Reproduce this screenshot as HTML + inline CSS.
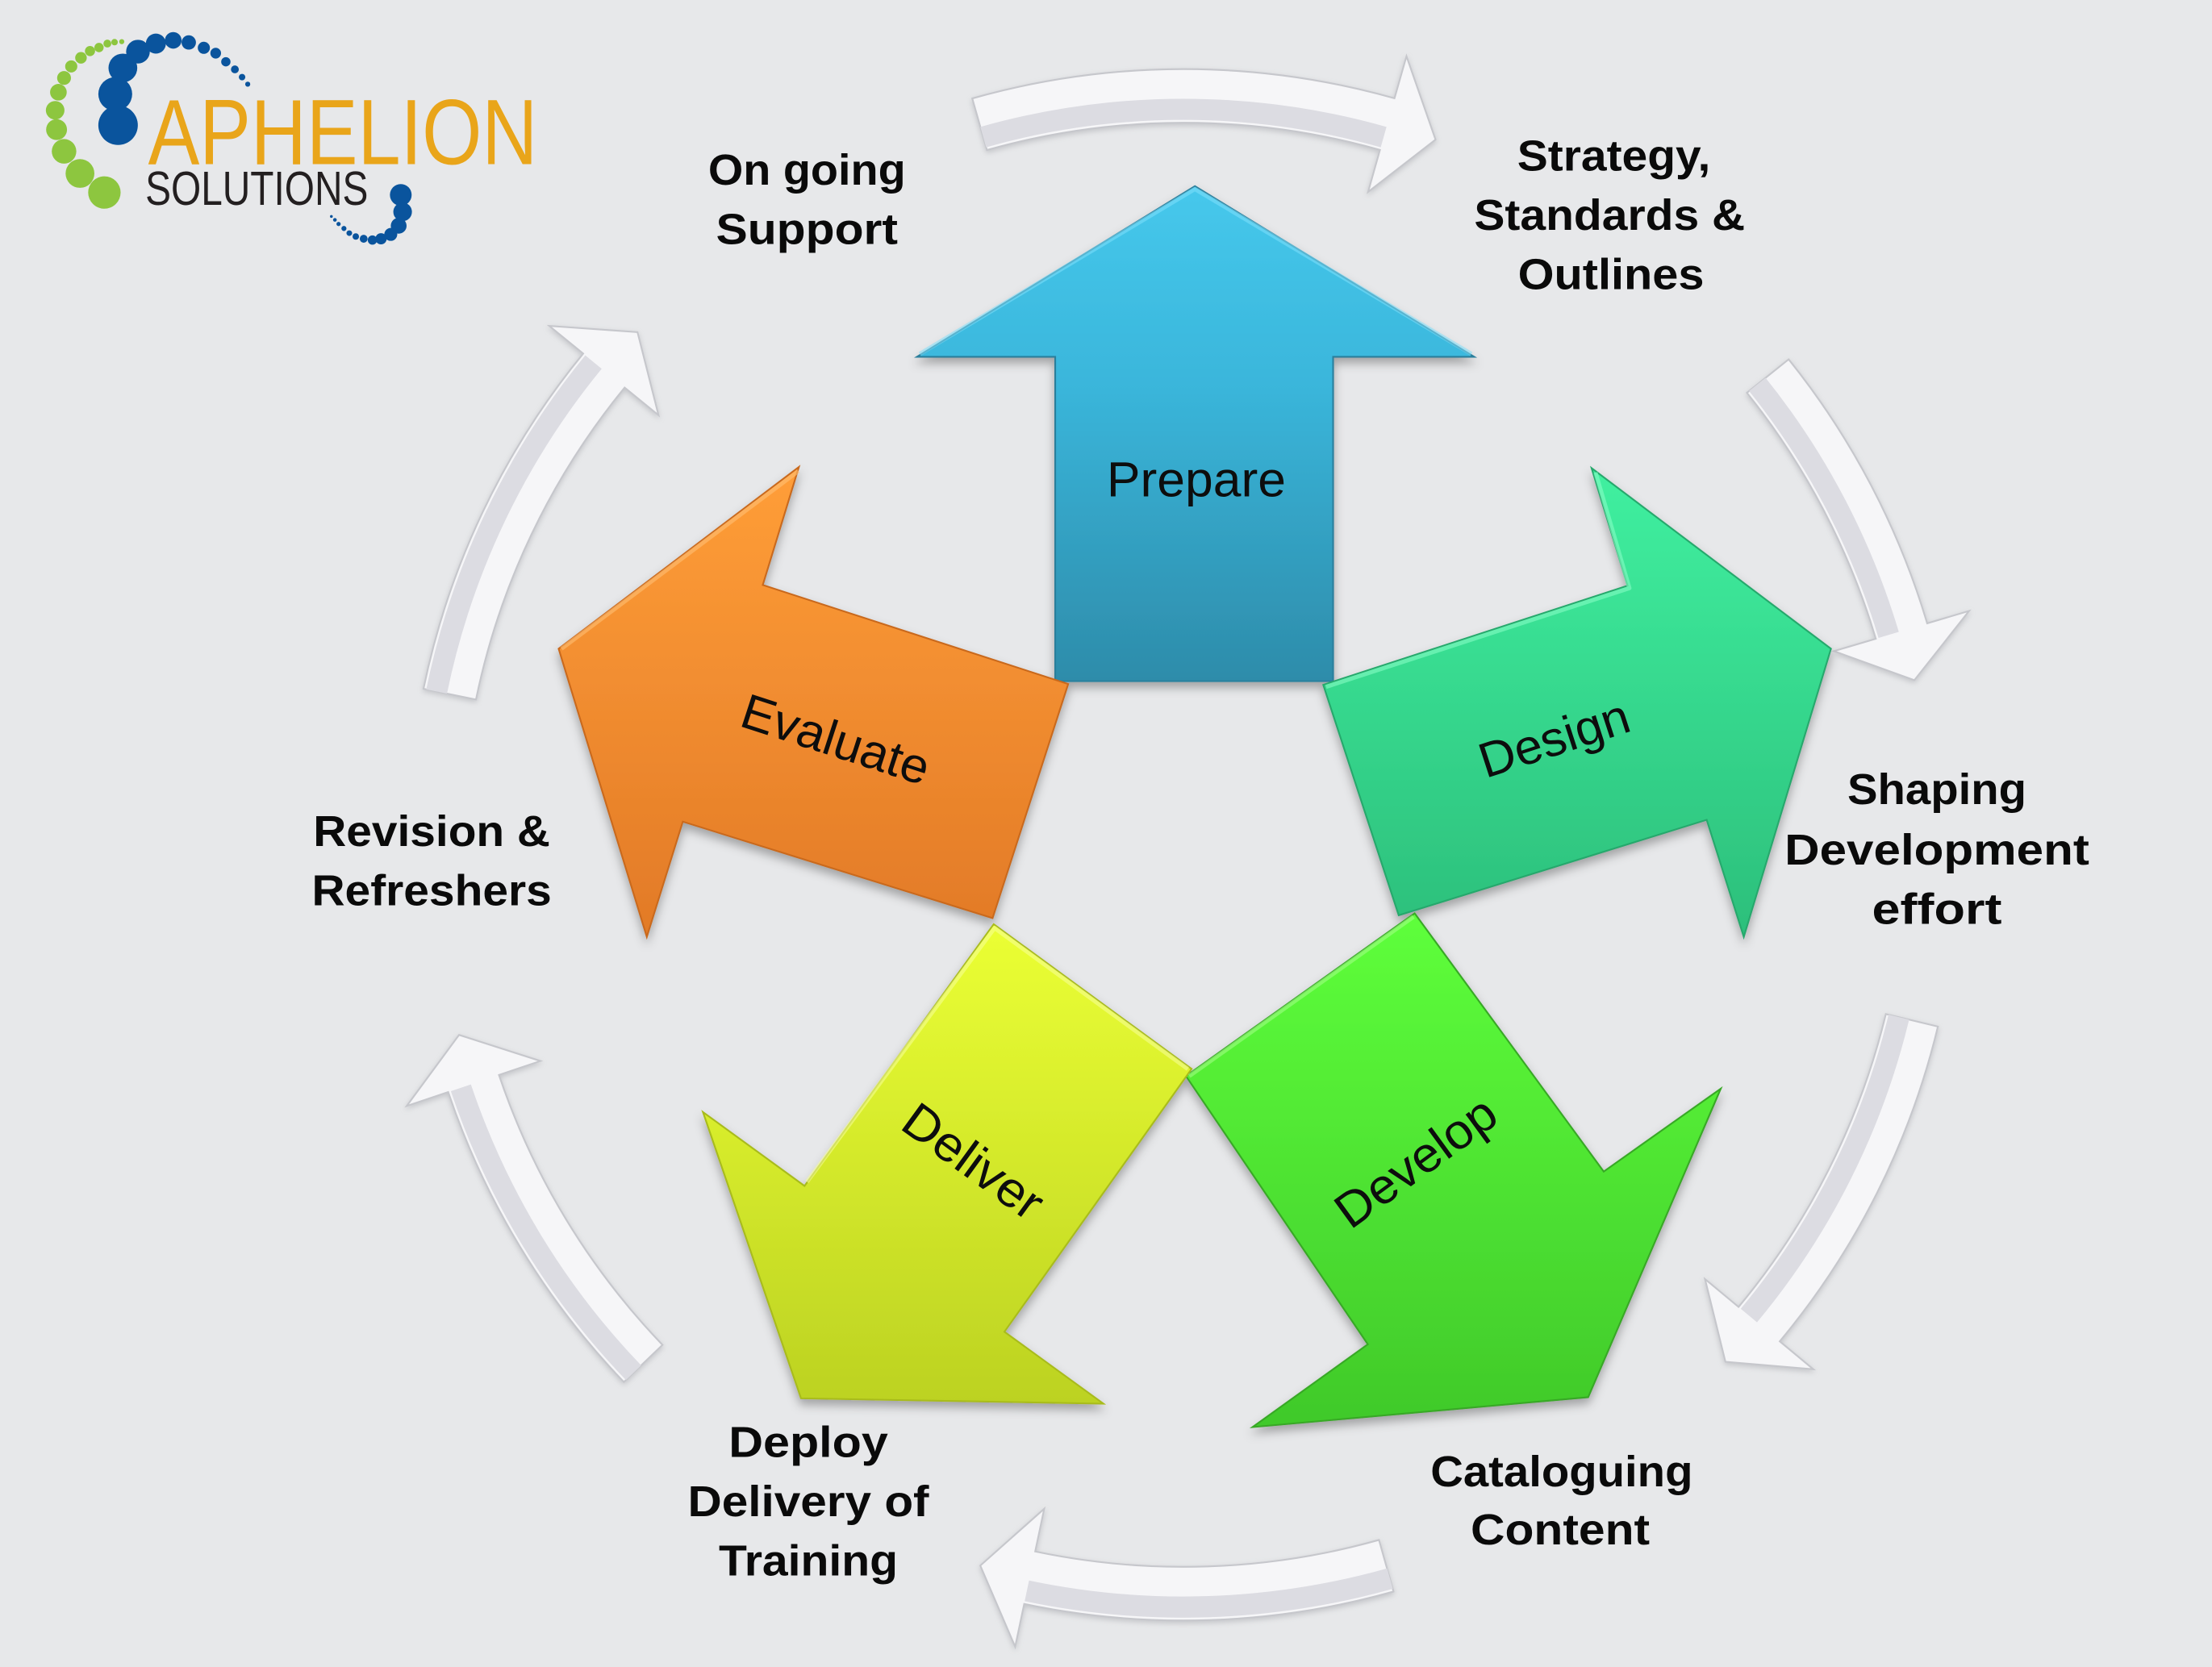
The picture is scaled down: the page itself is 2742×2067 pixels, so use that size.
<!DOCTYPE html>
<html>
<head>
<meta charset="utf-8">
<style>
  html,body{margin:0;padding:0;background:#e7e8ea;}
  body{width:2742px;height:2067px;overflow:hidden;}
  svg{display:block;}
  .lbl{font-family:"Liberation Sans",Arial,sans-serif;font-weight:bold;font-size:31px;fill:#0a0a0a;text-anchor:middle;}
  .al{font-family:"Liberation Sans",Arial,sans-serif;font-size:35px;fill:#0d0d0d;text-anchor:middle;}
</style>
</head>
<body>
<svg width="2742" height="2067" viewBox="0 0 1568 1182" preserveAspectRatio="none" xmlns="http://www.w3.org/2000/svg">
  <defs>
    <linearGradient id="gP" x1="0" y1="0" x2="0" y2="1">
      <stop offset="0" stop-color="#46c8ec"/>
      <stop offset="0.4" stop-color="#3ab6db"/>
      <stop offset="1" stop-color="#2d8caa"/>
    </linearGradient>
    <linearGradient id="gD" x1="0" y1="0" x2="0" y2="1">
      <stop offset="0" stop-color="#40f0a0"/>
      <stop offset="1" stop-color="#2cbf7b"/>
    </linearGradient>
    <linearGradient id="gE" x1="0" y1="0" x2="0" y2="1">
      <stop offset="0" stop-color="#ff9e38"/>
      <stop offset="1" stop-color="#e27a27"/>
    </linearGradient>
    <linearGradient id="gV" x1="0" y1="0" x2="0" y2="1">
      <stop offset="0" stop-color="#5eff3b"/>
      <stop offset="1" stop-color="#40c92a"/>
    </linearGradient>
    <linearGradient id="gL" x1="0" y1="0" x2="0" y2="1">
      <stop offset="0" stop-color="#ebff34"/>
      <stop offset="1" stop-color="#bcd222"/>
    </linearGradient>
    <filter id="sh" x="-10%" y="-10%" width="120%" height="125%">
      <feDropShadow dx="0" dy="4" stdDeviation="3.5" flood-color="#000" flood-opacity="0.3"/>
    </filter>
    <filter id="sh2" x="-10%" y="-10%" width="120%" height="120%">
      <feDropShadow dx="0" dy="1.5" stdDeviation="2" flood-color="#9a9ba0" flood-opacity="0.45"/>
    </filter>
  </defs>

  <rect x="0" y="0" width="1568" height="1182" fill="#e7e8ea"/>

  <!-- ===== Curved cycle arrows ===== -->
  <g stroke="#c6c7cc" stroke-width="1.2" stroke-linejoin="miter" filter="url(#sh2)">
    <path d="M689.2,69.8 A550,550 0 0,1 988.5,69.7 L997.0,39.9 L1017.6,99.0 L969.8,136.1 L978.2,106.3 A512,512 0 0,0 699.6,106.4 Z" fill="#f6f6f8"/>
    <path d="M1267.9,254.8 A550,550 0 0,1 1366.1,442.0 L1395.8,433.2 L1357.0,482.3 L1300.0,461.7 L1329.7,452.9 A512,512 0 0,0 1238.3,278.5 Z" fill="#f6f6f8"/>
    <path d="M1373.7,727.9 A550,550 0 0,1 1261.6,951.1 L1285.4,970.9 L1223.1,965.6 L1208.6,906.9 L1232.4,926.7 A512,512 0 0,0 1336.8,719.0 Z" fill="#f6f6f8"/>
    <path d="M987.8,1128.5 A550,550 0 0,1 726.0,1137.3 L719.6,1167.6 L694.9,1110.1 L740.2,1069.8 L733.8,1100.1 A512,512 0 0,0 977.5,1091.9 Z" fill="#f6f6f8"/>
    <path d="M442.2,979.9 A550,550 0 0,1 317.7,774.3 L288.3,784.2 L325.4,733.8 L383.1,752.3 L353.7,762.2 A512,512 0 0,0 469.6,953.6 Z" fill="#f6f6f8"/>
    <path d="M300.2,488.4 A550,550 0 0,1 413.4,250.7 L389.4,231.1 L451.9,235.5 L466.8,294.4 L442.8,274.8 A512,512 0 0,0 337.4,496.0 Z" fill="#f6f6f8"/>
  </g>
  <!-- gray shading stripes -->
  <g fill="none" stroke="#dcdce2" stroke-width="15" stroke-linecap="butt">
    <path d="M697.0,97.2 A521.5,521.5 0 0,1 980.8,97.2"/>
    <path d="M1245.7,272.6 A521.5,521.5 0 0,1 1338.8,450.2"/>
    <path d="M1346.0,721.2 A521.5,521.5 0 0,1 1239.7,932.8"/>
    <path d="M985.3,1119.3 A540.5,540.5 0 0,1 727.9,1128.0"/>
    <path d="M449.1,973.3 A540.5,540.5 0 0,1 326.7,771.3"/>
    <path d="M309.5,490.3 A540.5,540.5 0 0,1 420.7,256.7"/>
  </g>

  <!-- ===== Main block arrows ===== -->
  <g filter="url(#sh)" stroke-width="1.2" stroke-linejoin="miter">
    <polygon points="847,132 1045,253 945,253 945,483 748,483 748,253 650,253" fill="url(#gP)" stroke="#2a7f9c"/>
    <polygon points="938,485.6 1153.7,415.3 1128.2,331.9 1297.9,460 1236.1,664.3 1209.8,581.3 991.5,649" fill="url(#gD)" stroke="#27a86c"/>
    <polygon points="1002.8,647.6 1136.8,830.7 1219.8,771.9 1125.8,990.7 887.9,1011.9 969.6,953.2 840.7,763" fill="url(#gV)" stroke="#37a825"/>
    <polygon points="704.4,655.3 844.7,757.9 712,944.3 782.2,995.3 567.8,991.5 498.3,788.5 570.3,840.9" fill="url(#gL)" stroke="#a8bb1c"/>
    <polygon points="757.2,485 540.7,414.8 566.3,331.1 396,460 458.5,664.3 484,582.6 703.6,651" fill="url(#gE)" stroke="#c9691f"/>
  </g>
  <!-- bevel highlights -->
  <g fill="none" stroke-width="3" stroke-linejoin="round" opacity="0.55">
    <polyline points="652,251 847,134 1043,251" stroke="#7fe0fb"/>
    <polyline points="940,487 1155,417 1131,335" stroke="#8cffc8"/>
    <polyline points="843,763 1002,650" stroke="#a6ff8a"/>
    <polyline points="572,838 705,658 842,758" stroke="#f8ff9a"/>
    <polyline points="398,460 566,334" stroke="#ffc27a"/>
  </g>

  <!-- ===== Arrow labels ===== -->
  <text class="al" x="848" y="352" textLength="127" lengthAdjust="spacingAndGlyphs">Prepare</text>
  <g transform="translate(1102.6,526.4) rotate(-18)">
    <text class="al" x="0" y="9" textLength="110" lengthAdjust="spacingAndGlyphs">Design</text>
  </g>
  <g transform="translate(592.5,523.8) rotate(18)">
    <text class="al" x="0" y="12.5" textLength="138" lengthAdjust="spacingAndGlyphs">Evaluate</text>
  </g>
  <g transform="translate(1005.3,826.3) rotate(-36)">
    <text class="al" x="0" y="9" textLength="132" lengthAdjust="spacingAndGlyphs">Develop</text>
  </g>
  <g transform="translate(690.3,823) rotate(36)">
    <text class="al" x="0" y="12.5" textLength="114" lengthAdjust="spacingAndGlyphs">Deliver</text>
  </g>

  <!-- ===== Outer labels ===== -->
  <text class="lbl" x="572" y="131" textLength="140" lengthAdjust="spacingAndGlyphs">On going</text>
  <text class="lbl" x="572" y="173" textLength="129" lengthAdjust="spacingAndGlyphs">Support</text>

  <text class="lbl" x="1144" y="121" textLength="137" lengthAdjust="spacingAndGlyphs">Strategy,</text>
  <text class="lbl" x="1141" y="163" textLength="192" lengthAdjust="spacingAndGlyphs">Standards &amp;</text>
  <text class="lbl" x="1142" y="205" textLength="132" lengthAdjust="spacingAndGlyphs">Outlines</text>

  <text class="lbl" x="1373" y="570" textLength="127" lengthAdjust="spacingAndGlyphs">Shaping</text>
  <text class="lbl" x="1373" y="613" textLength="216" lengthAdjust="spacingAndGlyphs">Development</text>
  <text class="lbl" x="1373" y="655" textLength="92" lengthAdjust="spacingAndGlyphs">effort</text>

  <text class="lbl" x="306" y="600" textLength="168" lengthAdjust="spacingAndGlyphs">Revision &amp;</text>
  <text class="lbl" x="306" y="642" textLength="170" lengthAdjust="spacingAndGlyphs">Refreshers</text>

  <text class="lbl" x="1107" y="1054" textLength="186" lengthAdjust="spacingAndGlyphs">Cataloguing</text>
  <text class="lbl" x="1106" y="1095" textLength="127" lengthAdjust="spacingAndGlyphs">Content</text>

  <text class="lbl" x="573" y="1033" textLength="113" lengthAdjust="spacingAndGlyphs">Deploy</text>
  <text class="lbl" x="573" y="1075" textLength="171" lengthAdjust="spacingAndGlyphs">Delivery of</text>
  <text class="lbl" x="573" y="1117" textLength="127" lengthAdjust="spacingAndGlyphs">Training</text>

  <!-- ===== Logo ===== -->
  <g fill="#8dc63f">
    <circle cx="86.3" cy="29.5" r="1.8"/>
    <circle cx="81.2" cy="29.9" r="2.3"/>
    <circle cx="76.1" cy="30.9" r="2.8"/>
    <circle cx="70.2" cy="33.7" r="3.3"/>
    <circle cx="63.8" cy="36.2" r="3.6"/>
    <circle cx="57.4" cy="41" r="4.1"/>
    <circle cx="50.5" cy="47.1" r="4.3"/>
    <circle cx="45.4" cy="55.3" r="4.9"/>
    <circle cx="41.4" cy="65.4" r="5.9"/>
    <circle cx="39.1" cy="78.2" r="6.6"/>
    <circle cx="40.1" cy="91.9" r="7.4"/>
    <circle cx="45.4" cy="107.3" r="8.7"/>
    <circle cx="56.7" cy="123" r="10.2"/>
    <circle cx="74" cy="136.5" r="11.5"/>
  </g>
  <g fill="#0a549d">
    <circle cx="83.7" cy="88.8" r="14"/>
    <circle cx="81.7" cy="66.7" r="12"/>
    <circle cx="87.1" cy="48.2" r="10.2"/>
    <circle cx="97.8" cy="36.6" r="8.4"/>
    <circle cx="110.5" cy="30.9" r="7.1"/>
    <circle cx="122.8" cy="28.6" r="5.9"/>
    <circle cx="133.8" cy="30.1" r="5.1"/>
    <circle cx="144.5" cy="33.9" r="4.3"/>
    <circle cx="152.9" cy="37.7" r="3.8"/>
    <circle cx="160.1" cy="43.8" r="3.3"/>
    <circle cx="166.5" cy="49.2" r="2.8"/>
    <circle cx="171.6" cy="54.7" r="2.3"/>
    <circle cx="175.6" cy="59.7" r="1.8"/>
    <circle cx="284.1" cy="138.2" r="7.7"/>
    <circle cx="285.4" cy="150.2" r="6.6"/>
    <circle cx="282.6" cy="160.1" r="5.6"/>
    <circle cx="277" cy="166.2" r="4.6"/>
    <circle cx="270.1" cy="169.3" r="4"/>
    <circle cx="264" cy="170.2" r="3.3"/>
    <circle cx="257.8" cy="169.3" r="2.8"/>
    <circle cx="252.2" cy="167.7" r="2.3"/>
    <circle cx="247.6" cy="165.3" r="2"/>
    <circle cx="243.8" cy="162" r="1.8"/>
    <circle cx="240" cy="158.8" r="1.5"/>
    <circle cx="237.4" cy="155.9" r="1.3"/>
    <circle cx="234.9" cy="153.5" r="1"/>
  </g>
  <text x="105" y="116.3" font-family="Liberation Sans, Arial, sans-serif" font-size="66" fill="#e9a51a" textLength="276" lengthAdjust="spacingAndGlyphs">APHELION</text>
  <text x="103" y="145.3" font-family="Liberation Sans, Arial, sans-serif" font-size="34" fill="#231f20" textLength="158" lengthAdjust="spacingAndGlyphs">SOLUTIONS</text>
</svg>
</body>
</html>
